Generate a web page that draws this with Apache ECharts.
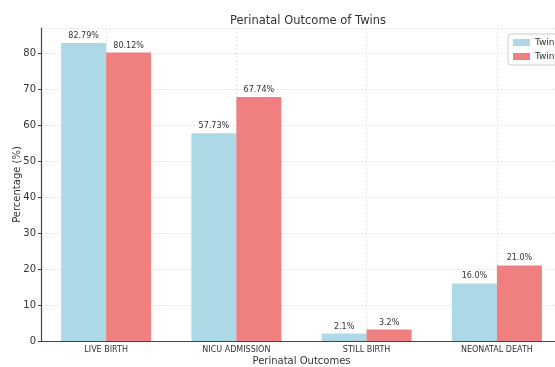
<!DOCTYPE html>
<html>
<head>
<meta charset="utf-8">
<script src="https://cdn.jsdelivr.net/npm/echarts@6/dist/echarts.min.js"></script>
<style>
  html, body { margin: 0; padding: 0; background: #fff; }
  #chart { width: 555px; height: 367px; }
</style>
</head>
<body>
<div id="chart"></div>
<script>
// Perinatal outcomes by twin order (percentages)
const outcomes = ['LIVE BIRTH', 'NICU ADMISSION', 'STILL BIRTH', 'NEONATAL DEATH'];
const twin1 = [82.79, 57.73, 2.1, 16.0];
const twin2 = [80.12, 67.74, 3.2, 21.0];
const twin1Labels = ['82.79%', '57.73%', '2.1%', '16.0%'];
const twin2Labels = ['80.12%', '67.74%', '3.2%', '21.0%'];
const yTicks = [0, 10, 20, 30, 40, 50, 60, 70, 80];

const FONT = '"DejaVu Sans", "Open Sans", sans-serif';
const chart = echarts.init(document.getElementById('chart'), null, { renderer: 'canvas' });

function barSeries(name, values, labels, color) {
  return {
    name: name,
    type: 'bar',
    data: values,
    barWidth: 45,
    barGap: '0%',
    itemStyle: { color: color },
    label: {
      show: true,
      position: 'top',
      distance: 3,
      fontFamily: FONT,
      fontSize: 8,
      color: '#333',
      formatter: function (p) { return labels[p.dataIndex]; }
    }
  };
}

chart.setOption({
  animation: false,
  backgroundColor: '#fff',
  title: {
    text: 'Perinatal Outcome of Twins',
    left: 303,
    textAlign: 'center',
    top: 10,
    textStyle: { fontFamily: FONT, fontSize: 11.5, fontWeight: 'normal', color: '#333' }
  },
  legend: {
    orient: 'vertical',
    left: 508,
    top: 34,
    itemWidth: 17,
    itemHeight: 7,
    itemGap: 5,
    padding: [4, 5],
    borderColor: '#ccc',
    borderWidth: 1,
    borderRadius: 3,
    backgroundColor: '#fff',
    textStyle: { fontFamily: FONT, fontSize: 9, color: '#333' },
    icon: 'rect',
    data: ['Twin 1', 'Twin 2']
  },
  grid: { left: 41, right: -7, top: 28, bottom: 26, containLabel: false, outerBoundsMode: 'none' },
  xAxis: {
    type: 'category',
    data: outcomes,
    name: 'Perinatal Outcomes',
    nameLocation: 'middle',
    nameGap: 15,
    nameMoveOverlap: false,
    nameTextStyle: { fontFamily: FONT, fontSize: 10, color: '#333' },
    axisLine: { lineStyle: { color: '#444', width: 1.2 } },
    axisTick: { show: false, alignWithLabel: true },
    axisLabel: { fontFamily: FONT, fontSize: 8, color: '#333', margin: 5 },
    splitLine: { show: true, alignWithLabel: true, lineStyle: { color: '#ddd', type: [2, 2], width: 0.8 } }
  },
  yAxis: {
    type: 'value',
    min: 0,
    max: 86.93,
    interval: 10,
    name: 'Percentage (%)',
    nameLocation: 'middle',
    nameGap: 19,
    nameMoveOverlap: false,
    nameTextStyle: { fontFamily: FONT, fontSize: 10, color: '#333' },
    axisLine: { show: true, lineStyle: { color: '#444', width: 1.2 } },
    axisTick: { show: true, length: 3, lineStyle: { color: '#444' } },
    axisLabel: {
      fontFamily: FONT, fontSize: 10, color: '#333', margin: 5,
      showMaxLabel: false,
      formatter: function (v) { return yTicks.indexOf(v) >= 0 ? String(v) : ''; }
    },
    splitLine: { show: true, lineStyle: { color: '#ddd', type: [2, 2], width: 0.8 } }
  },
  series: [
    barSeries('Twin 1', twin1, twin1Labels, '#add8e6'),
    barSeries('Twin 2', twin2, twin2Labels, '#f08080')
  ]
});
</script>
</body>
</html>
